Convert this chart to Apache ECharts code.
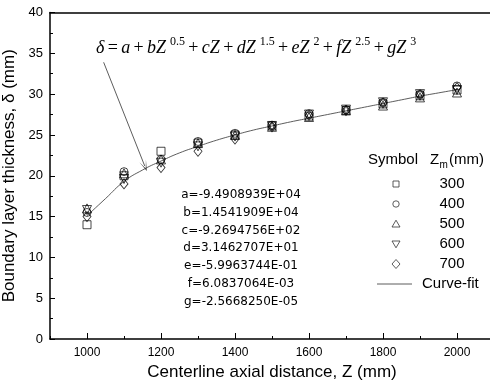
<!DOCTYPE html>
<html><head><meta charset="utf-8">
<script src="https://cdn.jsdelivr.net/npm/echarts@6/dist/echarts.min.js"></script>
<style>html,body{margin:0;padding:0;background:#fff}#c{width:490px;height:391px}</style>
</head><body><div id="c"></div>
<script>
// ---- data ----
const zValues = [1000, 1100, 1200, 1300, 1400, 1500, 1600, 1700, 1800, 1900, 2000];
const zm300 = [14.0, 20.0, 23.0, 24.0, 25.0, 26.1, 27.3, 28.0, 28.8, 29.8, 30.5];
const zm400 = [15.5, 20.5, 22.0, 24.2, 25.2, 26.2, 27.6, 28.1, 29.0, 30.0, 31.0];
const zm500 = [16.0, 20.3, 22.0, 24.0, 25.0, 26.0, 27.2, 28.0, 28.6, 29.6, 30.2];
const zm600 = [15.8, 19.6, 21.6, 23.6, 24.8, 26.1, 27.5, 28.1, 29.0, 30.0, 30.5];
const zm700 = [15.0, 19.0, 21.0, 23.0, 24.5, 26.0, 27.4, 28.0, 28.9, 29.9, 30.8];
const curveZ = [1000, 1050, 1100, 1150, 1200, 1250, 1300, 1350, 1400, 1450, 1500, 1550, 1600, 1650, 1700, 1750, 1800, 1850, 1900, 1950, 2000];
const curveDelta = [15.1, 17.2, 19.3, 20.7, 21.8, 22.8, 23.6, 24.35, 25.0, 25.6, 26.1, 26.6, 27.05, 27.5, 27.95, 28.4, 28.85, 29.3, 29.75, 30.15, 30.55];
const seriesNames = ['300', '400', '500', '600', '700'];
const xTickLabels = [1000, 1200, 1400, 1600, 1800, 2000];
const arrowStart = [1045, 33.9];
const arrowEnd = [1156, 21.2];
const coefLines = ['a=-9.4908939E+04', 'b=1.4541909E+04', 'c=-9.2694756E+02', 'd=3.1462707E+01', 'e=-5.9963744E-01', 'f=6.0837064E-03', 'g=-2.5668250E-05'];

const seriesData = [zm300, zm400, zm500, zm600, zm700];
const symbols = ['rect', 'circle', 'triangle', 'triangle', 'diamond'];
const sizes = [8, 8, 9, 9, [8, 10]];
const rotates = [0, 0, 0, 180, 0];

const chart = echarts.init(document.getElementById('c'), null, {renderer: 'canvas'});
const sans = 'Liberation Sans, Arial, sans-serif';

const scatterSeries = seriesData.map((vals, i) => ({
  type: 'scatter',
  name: seriesNames[i],
  data: zValues.map((z, k) => [z, vals[k]]),
  symbol: symbols[i],
  symbolSize: sizes[i],
  symbolRotate: rotates[i],
  itemStyle: {color: 'rgba(0,0,0,0)', borderColor: '#000', borderWidth: 0.9},
  z: 3
}));

const eqRich = {
  i: {fontFamily: 'Liberation Serif', fontStyle: 'italic', fontSize: 18, color: '#000', lineHeight: 24},
  r: {fontFamily: 'Liberation Serif', fontSize: 18, color: '#000', lineHeight: 24},
  s: {fontFamily: 'Liberation Serif', fontSize: 12, color: '#000', lineHeight: 14, verticalAlign: 'top', padding: [0, 0, 0, 4]}
};
const eqText = '{i|δ} {r|=} {i|a} {r|+} {i|bZ}{s|0.5} {r|+} {i|cZ} {r|+} {i|dZ}{s|1.5} {r|+} {i|eZ}{s|2} {r|+} {i|fZ}{s|2.5} {r|+} {i|gZ}{s|3}';

// legend built from graphics
const legX = 396, legTextX = 452, legY0 = 184, legDY = 20;
const legGraphics = [];
legGraphics.push({type: 'text', left: 368, top: 152, style: {text: 'Symbol', font: '15px ' + sans, fill: '#000'}});
legGraphics.push({type: 'text', left: 430, top: 152, style: {text: 'Z', font: '15px ' + sans, fill: '#000'}});
legGraphics.push({type: 'text', left: 439.5, top: 160, style: {text: 'm', font: '10px ' + sans, fill: '#000'}});
legGraphics.push({type: 'text', left: 449, top: 152, style: {text: '(mm)', font: '15px ' + sans, fill: '#000'}});
const legStroke = {fill: 'none', stroke: '#333', lineWidth: 0.8};
seriesNames.forEach((n, i) => {
  const cy = legY0 + i * legDY;
  let shape;
  if (i === 0) shape = {type: 'rect', shape: {x: legX - 3, y: cy - 3, width: 6, height: 6}, style: legStroke};
  else if (i === 1) shape = {type: 'circle', shape: {cx: legX, cy: cy, r: 3.2}, style: legStroke};
  else if (i === 2) shape = {type: 'polygon', shape: {points: [[legX, cy - 3.8], [legX + 4, cy + 3], [legX - 4, cy + 3]]}, style: legStroke};
  else if (i === 3) shape = {type: 'polygon', shape: {points: [[legX, cy + 3.8], [legX + 4, cy - 3], [legX - 4, cy - 3]]}, style: legStroke};
  else shape = {type: 'polygon', shape: {points: [[legX, cy - 4.5], [legX + 4, cy], [legX, cy + 4.5], [legX - 4, cy]]}, style: legStroke};
  legGraphics.push(shape);
  legGraphics.push({type: 'text', x: legTextX, y: cy, style: {text: n, font: '15px ' + sans, fill: '#000', align: 'center', verticalAlign: 'middle'}});
});
const cfY = legY0 + 5 * legDY;
legGraphics.push({type: 'line', shape: {x1: 377, y1: cfY, x2: 412, y2: cfY}, style: {stroke: '#333', lineWidth: 0.8}});
legGraphics.push({type: 'text', x: 422, y: cfY, style: {text: 'Curve-fit', font: '15px ' + sans, fill: '#000', verticalAlign: 'middle'}});

const option = {
  animation: false,
  backgroundColor: '#fff',
  grid: {left: 50, top: 12.5, width: 444, height: 326.5, containLabel: false, outerBoundsMode: 'none'},
  xAxis: [
    {
      type: 'value', min: 900, max: 2100, interval: 100, position: 'bottom',
      name: 'Centerline axial distance, Z (mm)', nameLocation: 'middle', nameGap: 21,
      nameTextStyle: {fontFamily: sans, fontSize: 17, color: '#000'},
      axisLine: {onZero: false, lineStyle: {color: '#000', width: 1.5}},
      axisTick: {inside: true, length: 3, lineStyle: {color: '#000', width: 1}},
      axisLabel: {formatter: v => xTickLabels.includes(v) ? String(v) : '', fontFamily: sans, fontSize: 12, color: '#000', margin: 8},
      splitLine: {show: false}
    },
    {
      type: 'value', min: 900, max: 2100, position: 'bottom',
      axisLine: {show: false},
      axisTick: {inside: true, length: 6, customValues: xTickLabels, lineStyle: {color: '#000', width: 1}},
      axisLabel: {show: false},
      splitLine: {show: false}
    },
    {
      type: 'value', min: 900, max: 2100, position: 'top',
      axisLine: {onZero: false, lineStyle: {color: '#000', width: 1.5}},
      axisTick: {show: false}, axisLabel: {show: false}, splitLine: {show: false}
    }
  ],
  yAxis: [{
    type: 'value', min: 0, max: 40, interval: 5,
    name: 'Boundary layer thickness, δ (mm)', nameLocation: 'middle', nameGap: 24, nameRotate: 90,
    nameTextStyle: {fontFamily: sans, fontSize: 17, color: '#000'},
    axisLine: {onZero: false, lineStyle: {color: '#000', width: 1.5}},
    axisTick: {inside: true, length: 5, lineStyle: {color: '#000', width: 1}},
    minorTick: {show: true, splitNumber: 2, length: 3, lineStyle: {color: '#000', width: 1}},
    axisLabel: {fontFamily: sans, fontSize: 13, color: '#000', margin: 7},
    splitLine: {show: false}
  }],
  series: [
    {
      type: 'line', name: 'Curve-fit', smooth: true, showSymbol: false, symbol: 'none',
      data: curveZ.map((z, k) => [z, curveDelta[k]]),
      lineStyle: {color: '#333', width: 0.8},
      z: 2,
      markLine: {
        silent: true, animation: false,
        symbol: ['none', 'path://M5,0 L10,12 L5,3 L0,12 Z'], symbolSize: [7, 11],
        lineStyle: {color: '#333', width: 0.8, type: 'solid'},
        label: {show: false},
        data: [[{coord: arrowStart}, {coord: arrowEnd}]]
      }
    }
  ].concat(scatterSeries),
  graphic: [
    {type: 'text', left: 96, top: 36, style: {text: eqText, rich: eqRich}},
    {type: 'text', x: 241, y: 186, style: {text: coefLines.join('\n'), font: '12px DejaVu Sans', lineHeight: 17.8, fill: '#000', align: 'center'}}
  ].concat(legGraphics)
};
chart.setOption(option);
</script>
</body></html>
